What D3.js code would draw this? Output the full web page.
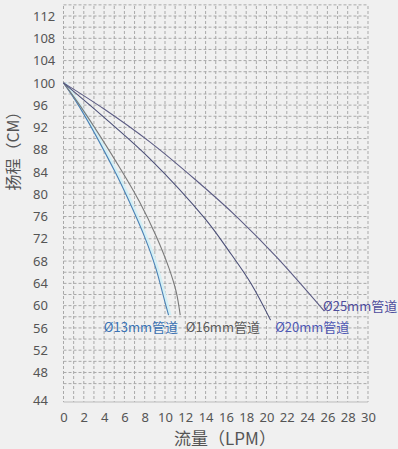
<!DOCTYPE html>
<html>
<head>
<meta charset="utf-8">
<script src="https://cdn.jsdelivr.net/npm/d3@7"></script>
<style>
  body { margin: 0; background: #f0f0f0; }
  svg { display: block; font-family: "Noto Sans", "Noto Sans CJK SC", sans-serif; }
</style>
</head>
<body>
<div id="chart"></div>
<script>
const W = 398, H = 449

// data (flow LPM, head CM)
const flowTicks = [0, 2, 4, 6, 8, 10, 12, 14, 16, 18, 20, 22, 24, 26, 28, 30]
const headTicks = [44, 48, 52, 56, 60, 64, 68, 72, 76, 80, 84, 88, 92, 96, 100, 104, 108, 112]
const pipeNames = ["Ø13mm管道", "Ø16mm管道", "Ø20mm管道", "Ø25mm管道"]
const flow13 = [0, 1.6, 5.0, 6.5, 8.0, 9.1, 9.9, 10.35]
const head13 = [100, 95.6, 84.3, 78.6, 72.3, 66.7, 61.3, 58.3]
const flow16 = [0, 1.75, 5.8, 7.5, 9.1, 10.4, 11.1, 11.5]
const head16 = [100, 95.6, 84.0, 78.6, 72.6, 66.7, 62.5, 58.3]
const flow20 = [0, 4, 8.5, 13.9, 16.3, 18.5, 20.4]
const head20 = [100, 93.8, 86.4, 75.7, 69.8, 63.9, 57.4]
const flow25 = [0, 4, 8.5, 13, 17.1, 21, 25.7]
const head25 = [100, 95.3, 89.4, 82.6, 75.9, 68.7, 59.0]

const svg = d3.select("#chart").append("svg")
  .attr("width", W)
  .attr("height", H)

const x = d3.scaleLinear().domain([0, 30]).range([63.5, 368])
const y = d3.scaleLinear().domain([42.7, 113.8]).range([402, 6])

// grid
const grid = svg.append("g").attr("stroke", "#a9a9a9").attr("stroke-dasharray", "3,2").attr("stroke-width", 1)
grid.selectAll(".v").data(d3.range(0, 31)).enter().append("line")
  .attr("x1", d => x(d)).attr("x2", d => x(d))
  .attr("y1", y(113.8)).attr("y2", y(42.7))
grid.selectAll(".h").data(d3.range(46, 115, 2)).enter().append("line")
  .attr("x1", x(0)).attr("x2", x(30))
  .attr("y1", d => y(d)).attr("y2", d => y(d))
svg.append("line")
  .attr("x1", x(0)).attr("x2", x(30))
  .attr("y1", y(42.7)).attr("y2", y(42.7))
  .attr("stroke", "#bbb")

// axes (labels only)
const xAxis = svg.append("g")
  .attr("transform", `translate(0, ${y(42.7)})`)
  .call(d3.axisBottom(x).tickValues(flowTicks).tickSize(0).tickPadding(11))
xAxis.select(".domain").remove()
xAxis.selectAll("text").attr("font-size", "13px").attr("fill", "#555")
  .attr("font-family", "Noto Sans, sans-serif")

const yAxis = svg.append("g")
  .attr("transform", "translate(33, 0)")
  .call(d3.axisLeft(y).tickValues(headTicks).tickSize(0))
yAxis.select(".domain").remove()
yAxis.selectAll("text").attr("font-size", "13px").attr("fill", "#555")
  .attr("text-anchor", "start").attr("x", 0)
  .attr("font-family", "Noto Sans, sans-serif")
yAxis.selectAll(".tick").filter(d => d === 44).select("text").attr("dy", "0.72em")

// axis titles
svg.append("text")
  .attr("transform", `translate(19, ${147}) rotate(-90)`)
  .attr("text-anchor", "middle")
  .attr("font-size", "16px")
  .attr("fill", "#555")
  .attr("font-family", "Noto Sans CJK SC, sans-serif")
  .text("扬程（CM）")

svg.append("text")
  .attr("x", 225)
  .attr("y", 445)
  .attr("text-anchor", "middle")
  .attr("font-size", "17px")
  .attr("fill", "#555")
  .attr("font-family", "Noto Sans CJK SC, sans-serif")
  .text("流量（LPM）")

// curves
const line = d3.line()
  .x(d => x(d[0]))
  .y(d => y(d[1]))
  .curve(d3.curveCatmullRom.alpha(0.5))

const curves = [
  {pts: d3.zip(flow13, head13), color: "#4a80b4"},
  {pts: d3.zip(flow16, head16), color: "#7a7a7a"},
  {pts: d3.zip(flow20, head20), color: "#4c5078"},
  {pts: d3.zip(flow25, head25), color: "#5c5c84"}
]

// light cyan glow beside the 13mm curve
svg.append("path")
  .attr("d", line(curves[0].pts))
  .attr("fill", "none")
  .attr("stroke", "#d3eff5")
  .attr("stroke-width", 3)
  .attr("transform", "translate(1.5, 0)")

svg.selectAll(".curve").data(curves).enter().append("path")
  .attr("class", "curve")
  .attr("d", d => line(d.pts))
  .attr("fill", "none")
  .attr("stroke", d => d.color)
  .attr("stroke-width", 1.1)

// pipe labels
const labelColors = ["#3a72b4", "#5a5a5a", "#4e58b4", "#4d4c9c"]
const labelPos = [[11.28, 56], [12.05, 56], [20.85, 56], [25.57, 59.8]]
svg.selectAll(".lbl").data(pipeNames).enter().append("text")
  .attr("class", "lbl")
  .attr("x", (d, i) => x(labelPos[i][0]))
  .attr("y", (d, i) => y(labelPos[i][1]))
  .attr("dy", "0.35em")
  .attr("text-anchor", (d, i) => i === 0 ? "end" : "start")
  .attr("font-size", "13px")
  .attr("font-family", "Noto Sans CJK SC, sans-serif")
  .attr("fill", (d, i) => labelColors[i])
  .text(d => d)
</script>
</body>
</html>
